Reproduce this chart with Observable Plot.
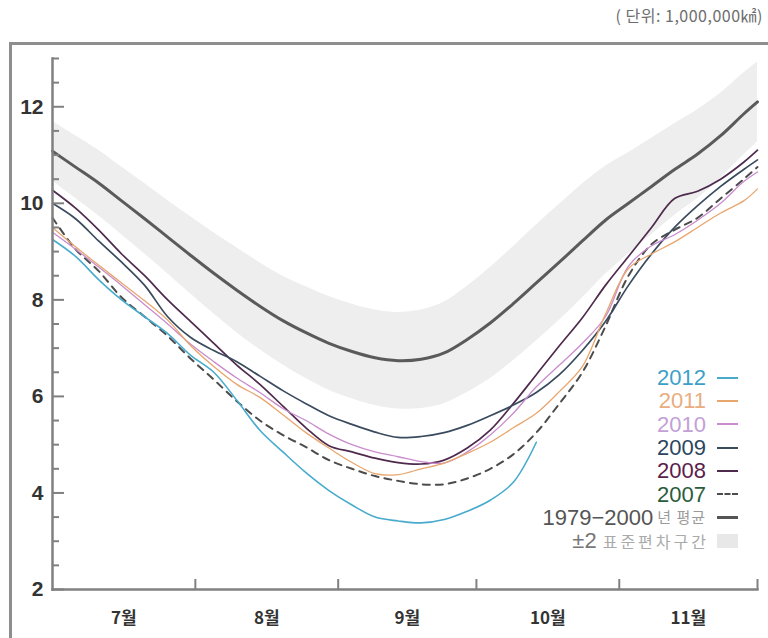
<!DOCTYPE html>
<html>
<head>
<meta charset="utf-8">
<script src="https://cdn.jsdelivr.net/npm/d3@7"></script>
<script src="https://cdn.jsdelivr.net/npm/@observablehq/plot@0.6"></script>
<style>
  body { margin: 0; background: #fff; }
  #wrap { position: relative; width: 768px; height: 638px; overflow: hidden; background: #fff;
          font-family: "Liberation Sans", Arial, "Noto Sans CJK KR", sans-serif; }
  #chart { position: absolute; left: 0; top: 0; }
  #frame { position: absolute; left: 9px; top: 42px; width: 780px; height: 700px;
           border: 3px solid #8e8e8e; box-sizing: border-box; pointer-events: none; }
  #unit { position: absolute; right: 5px; top: 3px; font-size: 16px; color: #6e6e6e;
          font-family: "Noto Sans CJK KR", sans-serif; letter-spacing: 0.5px; }
  #legend { position: absolute; right: 30px; top: 366px; }
  .row { display: flex; justify-content: flex-end; align-items: center; height: 23.3px; }
  .lab { font-size: 22px; line-height: 23px; text-align: right; white-space: nowrap; }
  .ko { font-family: "Noto Sans CJK KR", sans-serif; font-size: 15px; line-height: 18px;
        color: #9a9a9a; white-space: nowrap; margin-left: 4px; letter-spacing: 1px; }
  .sym { width: 21px; margin-left: 11px; height: 0; }
  .box { width: 21px; margin-left: 8px; height: 14px; background: #e8e8e8; }
</style>
</head>
<body>
<div id="wrap">
  <div id="chart"></div>
  <div id="frame"></div>
  <div id="unit">( 단위: 1,000,000㎢)</div>
  <div id="legend"></div>
</div>
<script>
// days since 1 July
const days = [0,5,10,15,20,25,30,35,40,45,50,55,60,65,70,75,80,85,90,95,100,105,110,115,120,125,130,135,140,145,150,153];

// 1979-2000 average and ±2 standard deviation band (million km²)
const avg1979_2000 = [11.08,10.75,10.42,10.05,9.68,9.3,8.92,8.55,8.2,7.87,7.57,7.32,7.1,6.93,6.8,6.74,6.77,6.9,7.18,7.52,7.92,8.35,8.78,9.22,9.65,10.0,10.35,10.7,11.02,11.4,11.85,12.1];
const bandHi = [11.70,11.40,11.10,10.75,10.41,10.06,9.72,9.39,9.08,8.77,8.49,8.27,8.07,7.91,7.79,7.74,7.79,7.95,8.28,8.67,9.10,9.55,9.98,10.40,10.77,11.05,11.35,11.65,11.94,12.28,12.70,12.93];
const bandLo = [10.46,10.10,9.74,9.35,8.95,8.54,8.12,7.71,7.32,6.97,6.65,6.37,6.13,5.95,5.81,5.74,5.75,5.85,6.08,6.37,6.74,7.15,7.58,8.04,8.53,8.95,9.35,9.75,10.10,10.52,11.00,11.27];

const y2012 = [9.25,8.9,8.42,8.0,7.65,7.3,6.85,6.5,5.92,5.3,4.85,4.42,4.05,3.75,3.5,3.42,3.38,3.45,3.62,3.85,4.22,5.05,null,null,null,null,null,null,null,null,null,null];
const y2011 = [9.5,9.1,8.72,8.35,7.98,7.58,7.05,6.62,6.25,5.98,5.62,5.25,4.93,4.63,4.4,4.38,4.5,4.62,4.82,5.05,5.35,5.65,6.1,6.62,7.7,8.65,8.95,9.2,9.5,9.8,10.05,10.3];
const y2010 = [9.4,9.05,8.68,8.3,7.9,7.5,7.08,6.72,6.38,6.08,5.75,5.5,5.22,5.0,4.85,4.75,4.65,4.62,4.85,5.2,5.65,6.2,6.65,7.1,7.65,8.7,9.12,9.35,9.65,10.0,10.45,10.65];
const y2009 = [10.0,9.68,9.22,8.78,8.3,7.65,7.22,6.95,6.72,6.42,6.12,5.85,5.6,5.42,5.26,5.15,5.17,5.25,5.4,5.6,5.82,6.08,6.45,6.95,7.55,8.3,8.95,9.5,9.95,10.35,10.7,10.9];
const y2008 = [10.27,9.9,9.45,8.95,8.5,8.0,7.55,7.1,6.65,6.25,5.8,5.35,4.98,4.85,4.72,4.63,4.6,4.68,4.93,5.3,5.85,6.45,7.05,7.63,8.3,8.9,9.5,10.1,10.25,10.5,10.85,11.1];
const y2007 = [9.7,9.05,8.6,8.05,7.65,7.25,6.78,6.35,5.9,5.5,5.2,4.95,4.68,4.5,4.35,4.25,4.18,4.18,4.3,4.5,4.8,5.25,5.85,6.5,7.45,8.5,9.15,9.45,9.7,10.1,10.5,10.75];

// axis ticks
const yMajor = [2,4,6,8,10,12];
const yMinor = [2.5,3,3.5,4.5,5,5.5,6.5,7,7.5,8.5,9,9.5,10.5,11,11.5,12.5,13];
const monthStarts = [31,62,92,123,153];
const monthMids = [15.5,46.5,77,107.5,138];
const monthLabels = ["7월","8월","9월","10월","11월"];

const series = [
  {name:"2007", values:y2007, stroke:"#4c4c4c", width:2, dash:"7,6", text:"#2a5c3c"},
  {name:"2008", values:y2008, stroke:"#4e2a4c", width:1.7, text:"#5a1e4b"},
  {name:"2009", values:y2009, stroke:"#3a4b5e", width:1.7, text:"#2d465f"},
  {name:"2010", values:y2010, stroke:"#c98ccc", width:1.3, text:"#c3a0d6"},
  {name:"2011", values:y2011, stroke:"#e8a66e", width:1.3, text:"#e8ad80"},
  {name:"2012", values:y2012, stroke:"#48abcd", width:1.6, text:"#3d9fc8"}
];

const bandRows = days.map((d,i) => ({d, hi: bandHi[i], lo: bandLo[i], avg: avg1979_2000[i]}));

const axisColor = "#808080";
const marks = [
  Plot.areaY(bandRows, {x:"d", y1:"lo", y2:"hi", fill:"#eeeeee", curve:"catmull-rom"}),
  Plot.line(bandRows, {x:"d", y:"avg", stroke:"#5a5a5a", strokeWidth:3, curve:"catmull-rom"})
];
for (const s of series) {
  const pts = days.map((d,i) => ({d, v: s.values[i]})).filter(p => p.v != null);
  marks.push(Plot.line(pts, {x:"d", y:"v", stroke:s.stroke, strokeWidth:s.width,
    strokeDasharray: s.dash, curve:"catmull-rom"}));
}
marks.push(
  Plot.frame({anchor:"left", stroke:axisColor, strokeWidth:2.5}),
  Plot.frame({anchor:"bottom", stroke:axisColor, strokeWidth:2.5}),
  Plot.axisY({ticks:yMajor, tickSize:-12, fill:"none", stroke:axisColor, strokeWidth:2}),
  Plot.axisY({ticks:yMinor, tickSize:-7, fill:"none", stroke:axisColor, strokeWidth:2}),
  Plot.axisY({ticks:yMajor, tickSize:0, tickPadding:9, fontSize:21, fontWeight:"bold", fill:"#333",
    fontFamily:"Liberation Sans, Arial, sans-serif"}),
  Plot.axisX({ticks:monthStarts, tickSize:-10, fill:"none", stroke:axisColor, strokeWidth:2}),
  Plot.axisX({ticks:monthMids, tickSize:0, tickPadding:22, fontSize:17, fontWeight:"bold", fill:"#333",
    fontFamily:"Noto Sans CJK KR, sans-serif",
    tickFormat: d => monthLabels[monthMids.indexOf(d)]})
);

const chart = Plot.plot({
  width: 768, height: 638,
  marginLeft: 52, marginRight: 11, marginTop: 58, marginBottom: 49,
  x: {domain:[0,153], label:null},
  y: {domain:[2,13], label:null},
  style: {background:"transparent", fontFamily:"Liberation Sans, Arial, sans-serif"},
  marks
});
document.getElementById("chart").appendChild(chart);

// legend
const legend = document.getElementById("legend");
function addRow(parts, symStyle, isBox) {
  const row = document.createElement("div");
  row.className = "row";
  for (const p of parts) {
    const sp = document.createElement("span");
    sp.className = p.cls;
    if (p.style) sp.setAttribute("style", p.style);
    sp.textContent = p.text;
    row.appendChild(sp);
  }
  const sym = document.createElement("span");
  sym.className = isBox ? "box" : "sym";
  if (symStyle) sym.setAttribute("style", symStyle);
  row.appendChild(sym);
  legend.appendChild(row);
}
for (const s of [...series].reverse()) {
  addRow([{cls:"lab", text:s.name, style:`color:${s.text}`}],
    `border-top:${s.dash ? 2.5 : 2}px ${s.dash ? "dashed" : "solid"} ${s.stroke}`);
}
addRow([{cls:"lab", text:"1979−2000", style:"color:#555"}, {cls:"ko", text:"년 평균"}],
  "border-top:3px solid #555");
addRow([{cls:"lab", text:"±2", style:"color:#777"},
        {cls:"ko", text:"표준편차구간", style:"font-size:16px;color:#aaa;margin-left:6px;letter-spacing:3px"}], null, true);
</script>
</body>
</html>
